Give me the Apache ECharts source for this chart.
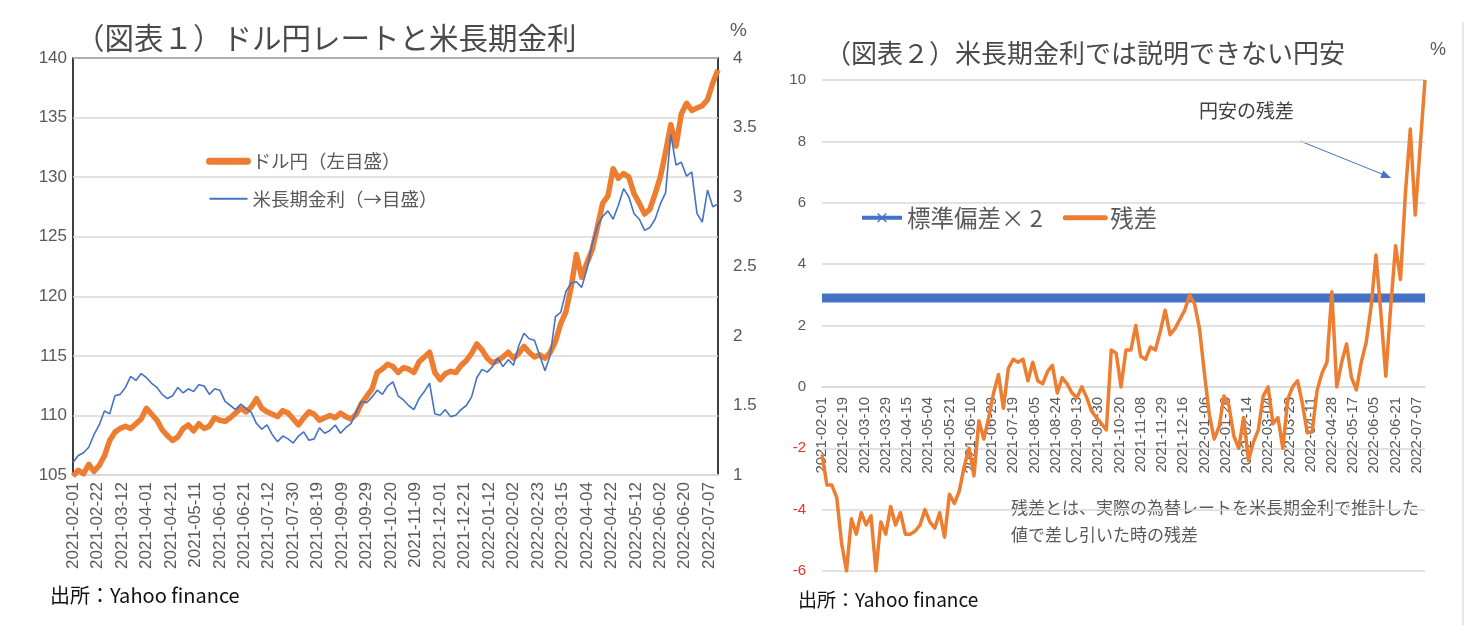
<!DOCTYPE html>
<html><head><meta charset="utf-8">
<script src="https://cdn.jsdelivr.net/npm/echarts@6/dist/echarts.min.js"></script>
<style>html,body{margin:0;padding:0;background:#fff;}#c{width:1480px;height:625px;}</style>
</head><body><div id="c"></div>
<script>
// ---------- data ----------
const leftDateLabels = ['2021-02-01','2021-02-22','2021-03-12','2021-04-01','2021-04-21','2021-05-11','2021-06-01','2021-06-21','2021-07-12','2021-07-30','2021-08-19','2021-09-09','2021-09-29','2021-10-20','2021-11-09','2021-12-01','2021-12-21','2022-01-12','2022-02-02','2022-02-23','2022-03-15','2022-04-04','2022-04-22','2022-05-12','2022-06-02','2022-06-20','2022-07-07'];
const rightDateLabels = ['2021-02-01','2021-02-19','2021-03-10','2021-03-29','2021-04-15','2021-05-04','2021-05-21','2021-06-10','2021-06-29','2021-07-19','2021-08-05','2021-08-24','2021-09-13','2021-09-30','2021-10-20','2021-11-08','2021-11-29','2021-12-16','2022-01-06','2022-01-26','2022-02-14','2022-03-04','2022-03-23','2022-04-11','2022-04-28','2022-05-17','2022-06-05','2022-06-21','2022-07-07'];
const leftLabelEvery = 14;   // trading days between left tick labels
const rightLabelEvery = 13;  // trading days between right tick labels
const sampleStep = 3;        // trading days between sampled values
const lastDayIndex = 369;    // 2022-07-14

const leftYTicks = {min:105, max:140, step:5};
const rightYTicks = {min:1, max:4, step:0.5};
const residYTicks = {min:-6, max:10, step:2};

// ドル円 (yen per dollar), one value every 3 trading days from 2021-02-01
const usdJpy = [104.9,105.4,105.1,105.9,105.3,105.8,106.6,107.9,108.6,108.9,
 109.1,108.9,109.3,109.7,110.6,110.1,109.6,108.8,108.3,107.9,
 108.2,108.9,109.2,108.7,109.3,108.9,109.1,109.8,109.6,109.5,
 109.8,110.2,110.6,110.3,110.7,111.4,110.6,110.3,110.1,109.9,
 110.4,110.2,109.7,109.2,109.8,110.3,110.1,109.6,109.8,110.0,
 109.8,110.2,109.9,109.7,110.1,111.0,111.6,112.2,113.6,113.9,
 114.3,114.1,113.6,114.0,113.9,113.6,114.5,114.9,115.3,113.6,
 113.0,113.5,113.7,113.6,114.2,114.6,115.2,116.0,115.5,114.8,
 114.4,114.6,114.9,115.3,114.8,115.2,115.8,115.3,114.9,115.1,
 114.8,115.3,116.2,117.7,118.7,120.8,123.5,121.6,122.8,123.9,
 125.8,127.8,128.4,130.7,129.9,130.3,130.0,128.6,127.8,126.9,
 127.3,128.6,130.0,132.1,134.4,132.6,135.3,136.2,135.6,135.8,
 136.0,136.5,137.9,139.0];
// 米長期金利 (%)
const us10y = [1.09,1.14,1.16,1.20,1.29,1.36,1.46,1.44,1.57,1.58,
 1.63,1.71,1.68,1.73,1.70,1.66,1.63,1.58,1.55,1.57,
 1.63,1.59,1.62,1.60,1.65,1.64,1.58,1.62,1.61,1.53,
 1.50,1.47,1.51,1.48,1.45,1.37,1.33,1.36,1.29,1.24,
 1.28,1.26,1.23,1.28,1.31,1.25,1.26,1.34,1.30,1.32,
 1.36,1.30,1.34,1.37,1.45,1.53,1.52,1.56,1.61,1.58,
 1.64,1.67,1.57,1.54,1.50,1.47,1.55,1.60,1.66,1.44,
 1.43,1.47,1.42,1.43,1.47,1.50,1.56,1.70,1.76,1.74,
 1.78,1.84,1.78,1.83,1.79,1.93,2.02,1.98,1.97,1.86,
 1.75,1.86,2.14,2.17,2.32,2.38,2.39,2.35,2.48,2.66,
 2.79,2.86,2.90,2.84,2.94,3.06,3.00,2.88,2.84,2.76,
 2.78,2.84,2.95,3.03,3.45,3.23,3.25,3.15,3.18,2.88,
 2.82,3.05,2.93,2.95];
// 残差 (%)
const residual = [-2.2,-3.2,-3.2,-3.6,-5.1,-6.0,-4.3,-4.8,-4.1,-4.5,
 -4.2,-6.0,-4.4,-4.8,-3.9,-4.5,-4.1,-4.8,-4.8,-4.7,
 -4.5,-4.0,-4.4,-4.6,-4.1,-4.9,-3.5,-3.8,-3.4,-2.6,
 -2.0,-2.9,-1.1,-1.7,-1.0,-0.2,0.4,-0.7,0.6,0.9,
 0.8,0.9,0.2,0.8,0.2,0.1,0.5,0.7,-0.2,0.3,
 0.1,-0.2,-0.35,0.0,-0.35,-0.8,-1.0,-1.2,-1.4,1.2,
 1.1,0.0,1.2,1.2,2.0,1.0,0.9,1.3,1.2,1.8,
 2.5,1.7,1.9,2.2,2.5,3.0,2.7,1.9,0.45,-0.9,
 -1.7,-1.3,-0.3,-0.6,-1.6,-2.0,-1.0,-2.4,-1.8,-1.4,
 -0.3,0.0,-1.2,-1.0,-2.0,-0.4,0.0,0.2,-0.55,-1.5,
 -1.45,-0.1,0.45,0.8,3.1,0.0,0.8,1.4,0.3,-0.1,
 0.8,1.45,2.6,4.3,2.4,0.35,2.6,4.6,3.5,6.3,
 8.4,5.6,7.8,10.0];
// 標準偏差×2 (constant level, %)
const stdDevX2 = 2.9;

// ---------- texts ----------
const leftTitle = '（図表１）ドル円レートと米長期金利';
const rightTitle = '（図表２）米長期金利では説明できない円安';
const usdName = 'ドル円（左目盛）';
const yieldName = '米長期金利（→目盛）';
const stdName = '標準偏差× 2';
const residName = '残差';

// ---------- chart ----------
const toXY = arr => arr.map((v, k) => [k * sampleStep, v]);
const latin = "'Liberation Sans', Arial, sans-serif";
const jp = "'Noto Sans CJK JP', sans-serif";
const gray = '#595959';
const gridGray = '#D9D9D9';
const red = '#E8312A';
const orange = '#ED7D31';
const blue = '#4472C4';
const xMark = 'path://M0,1 L1,0 L5,4 L9,0 L10,1 L6,5 L10,9 L9,10 L5,6 L1,10 L0,9 L4,5 Z';

const rightGrid = {left: 822, top: 80, width: 603, height: 491};
// place the right x axis on the value 0 of the residual axis
const zeroOffset = -(0 - residYTicks.min) / (residYTicks.max - residYTicks.min) * rightGrid.height;

const chart = echarts.init(document.getElementById('c'));
chart.setOption({
  animation: false,
  backgroundColor: '#fff',
  title: [
    {text: leftTitle, left: 70, top: 18, textStyle: {fontFamily: jp, fontSize: 29.5, fontWeight: 'normal', color: '#4a4a4a'}},
    {text: rightTitle, left: 820, top: 35, textStyle: {fontFamily: jp, fontSize: 26, fontWeight: 'normal', color: '#4a4a4a'}}
  ],
  legend: [
    {left: 201, top: 147, orient: 'vertical', itemWidth: 38, itemHeight: 14, itemGap: 19, selectedMode: false,
     textStyle: {fontFamily: jp, fontSize: 18.5, color: gray},
     data: [{name: usdName, itemStyle: {opacity: 0}, lineStyle: {width: 7, cap: 'round'}},
            {name: yieldName, itemStyle: {opacity: 0}, lineStyle: {width: 2}}]},
    {left: 855, top: 201, orient: 'horizontal', itemWidth: 40, itemHeight: 12, itemGap: 20, selectedMode: false,
     textStyle: {fontFamily: jp, fontSize: 23.5, color: gray},
     data: [{name: stdName, lineStyle: {width: 4}},
            {name: residName, itemStyle: {opacity: 0}, lineStyle: {width: 5, cap: 'round'}}]}
  ],
  grid: [
    {left: 73, top: 58, width: 645, height: 417, show: true, borderColor: '#000', borderWidth: 1.5, outerBoundsMode: 'none', containLabel: false},
    Object.assign({outerBoundsMode: 'none', containLabel: false}, rightGrid)
  ],
  xAxis: [
    {gridIndex: 0, type: 'value', min: 0, max: lastDayIndex, interval: leftLabelEvery,
     splitLine: {show: false}, axisTick: {show: false},
     axisLine: {onZero: false, lineStyle: {color: gridGray, width: 2}},
     axisLabel: {rotate: 90, fontSize: 17, color: gray, fontFamily: latin, margin: 7,
       formatter: v => (v % leftLabelEvery === 0 ? leftDateLabels[v / leftLabelEvery] : '')}},
    {gridIndex: 1, type: 'value', min: 0, max: lastDayIndex, interval: rightLabelEvery,
     position: 'bottom', offset: zeroOffset, z: 0,
     splitLine: {show: false}, axisTick: {show: false},
     axisLine: {onZero: false, lineStyle: {color: gridGray, width: 1.5}},
     axisLabel: {rotate: 90, fontSize: 15, color: gray, fontFamily: latin, margin: 10,
       formatter: v => (v % rightLabelEvery === 0 ? rightDateLabels[v / rightLabelEvery] : '')}}
  ],
  yAxis: [
    {gridIndex: 0, type: 'value', min: leftYTicks.min, max: leftYTicks.max, interval: leftYTicks.step,
     splitLine: {lineStyle: {color: gridGray, width: 1.5}}, axisLine: {show: false}, axisTick: {show: false},
     axisLabel: {fontSize: 17, color: gray, fontFamily: latin, margin: 6}},
    {gridIndex: 0, type: 'value', position: 'right', min: rightYTicks.min, max: rightYTicks.max, interval: rightYTicks.step,
     splitLine: {show: false}, axisLine: {show: false}, axisTick: {show: false},
     axisLabel: {fontSize: 17, color: gray, fontFamily: latin, margin: 15}},
    {gridIndex: 1, type: 'value', min: residYTicks.min, max: residYTicks.max, interval: residYTicks.step,
     splitLine: {lineStyle: {color: gridGray, width: 1.5}}, axisLine: {show: false, onZero: false}, axisTick: {show: false},
     axisLabel: {fontSize: 15, fontFamily: latin, margin: 16,
       color: v => (parseFloat(v) < 0 ? red : gray)}}
  ],
  series: [
    {name: usdName, type: 'line', xAxisIndex: 0, yAxisIndex: 0, data: toXY(usdJpy),
     symbol: 'none', lineStyle: {color: orange, width: 5.5, join: 'round'}, itemStyle: {color: orange}, z: 2},
    {name: yieldName, type: 'line', xAxisIndex: 0, yAxisIndex: 1, data: toXY(us10y),
     symbol: 'none', lineStyle: {color: blue, width: 1.6}, itemStyle: {color: blue}, z: 3},
    {name: stdName, type: 'line', xAxisIndex: 1, yAxisIndex: 2,
     data: [[0, stdDevX2], [lastDayIndex, stdDevX2]],
     symbol: xMark, symbolSize: 9, showSymbol: false,
     lineStyle: {color: blue, width: 9}, itemStyle: {color: blue}, z: 4},
    {name: residName, type: 'line', xAxisIndex: 1, yAxisIndex: 2, data: toXY(residual),
     symbol: 'none', lineStyle: {color: orange, width: 3.5, join: 'round'}, itemStyle: {color: orange}, z: 5}
  ],
  graphic: [
    {type: 'text', x: 730, y: 31, style: {text: '%', fontSize: 19, fontFamily: latin, fill: gray, align: 'left', verticalAlign: 'middle'}},
    {type: 'text', x: 1430, y: 50, style: {text: '%', fontSize: 18, fontFamily: latin, fill: gray, align: 'left', verticalAlign: 'middle'}},
    {type: 'text', x: 50, y: 595, style: {text: '出所：Yahoo finance', fontSize: 20, fontFamily: jp, fill: '#111', align: 'left', verticalAlign: 'middle'}},
    {type: 'text', x: 798, y: 600, style: {text: '出所：Yahoo finance', fontSize: 19, fontFamily: jp, fill: '#111', align: 'left', verticalAlign: 'middle'}},
    {type: 'text', x: 1199, y: 111, style: {text: '円安の残差', fontSize: 19, fontFamily: jp, fill: '#404040', align: 'left', verticalAlign: 'middle'}},
    {type: 'line', shape: {x1: 1300, y1: 141, x2: 1382, y2: 174}, style: {stroke: blue, lineWidth: 1}},
    {type: 'polygon', shape: {points: [[1391, 178], [1380.2, 177.9], [1383.3, 170.5]]}, style: {fill: blue}},
    {type: 'text', x: 1011, y: 508, style: {text: '残差とは、実際の為替レートを米長期金利で推計した', fontSize: 17, fontFamily: jp, fill: gray, align: 'left', verticalAlign: 'middle'}},
    {type: 'text', x: 1011, y: 535, style: {text: '値で差し引いた時の残差', fontSize: 17, fontFamily: jp, fill: gray, align: 'left', verticalAlign: 'middle'}},
    {type: 'line', shape: {x1: 1463, y1: 22, x2: 1463, y2: 625}, style: {stroke: '#D0D0D0', lineWidth: 1}}
  ]
});
</script>
</body></html>
